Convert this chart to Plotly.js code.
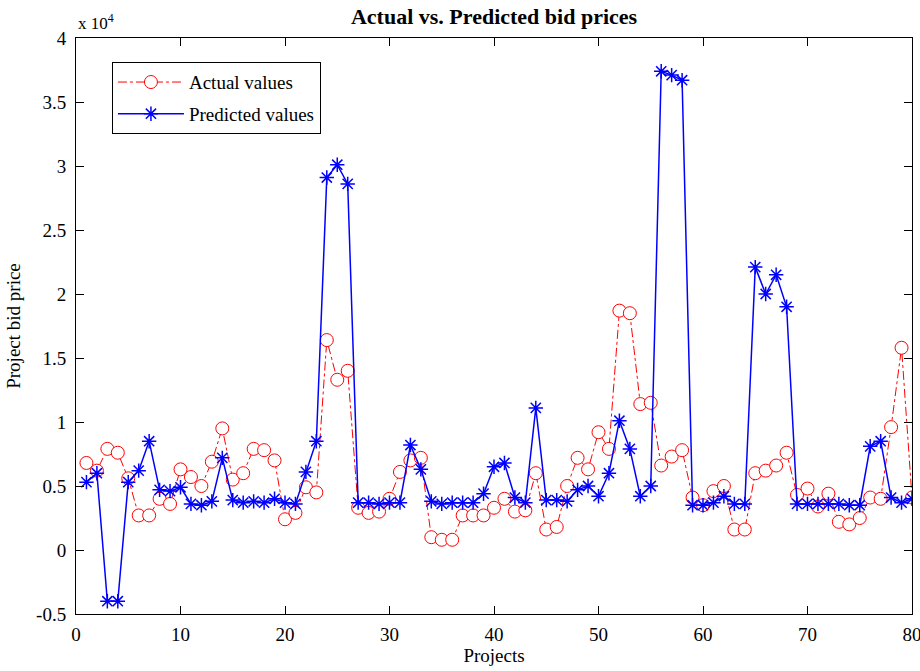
<!DOCTYPE html>
<html>
<head>
<meta charset="utf-8">
<script src="https://cdn.plot.ly/plotly-3.0.1.min.js"></script>
<style>html,body{margin:0;padding:0;background:#fff;}#chart{width:920px;height:671px;}</style>
</head>
<body>
<div id="chart"></div>
<script>
// Values in units of 10^4
const projects = Array.from({length: 80}, (_, i) => i + 1);
const actualValues = [
  0.68, 0.62, 0.79, 0.76, 0.56, 0.27, 0.27, 0.40, 0.36, 0.63,
  0.57, 0.50, 0.69, 0.95, 0.55, 0.60, 0.79, 0.78, 0.70, 0.24,
  0.29, 0.49, 0.45, 1.64, 1.33, 1.40, 0.33, 0.29, 0.30, 0.40,
  0.61, 0.70, 0.72, 0.10, 0.08, 0.08, 0.27, 0.27, 0.27, 0.33,
  0.40, 0.30, 0.31, 0.60, 0.16, 0.18, 0.50, 0.72, 0.63, 0.92,
  0.79, 1.87, 1.85, 1.14, 1.15, 0.66, 0.73, 0.78, 0.41, 0.35,
  0.46, 0.50, 0.16, 0.16, 0.60, 0.62, 0.66, 0.76, 0.43, 0.48,
  0.34, 0.44, 0.22, 0.20, 0.25, 0.41, 0.40, 0.96, 1.58, 0.41
];
const predictedValues = [
  0.53, 0.60, -0.40, -0.40, 0.53, 0.62, 0.85, 0.47, 0.46, 0.49,
  0.36, 0.35, 0.38, 0.72, 0.39, 0.37, 0.38, 0.37, 0.40, 0.37,
  0.36, 0.61, 0.85, 2.91, 3.01, 2.86, 0.37, 0.37, 0.36, 0.37,
  0.37, 0.82, 0.63, 0.38, 0.36, 0.37, 0.37, 0.37, 0.44, 0.65,
  0.68, 0.41, 0.37, 1.11, 0.39, 0.39, 0.38, 0.47, 0.50, 0.42,
  0.60, 1.01, 0.79, 0.42, 0.50, 3.74, 3.71, 3.67, 0.35, 0.35,
  0.37, 0.42, 0.36, 0.36, 2.21, 2.00, 2.15, 1.90, 0.36, 0.36,
  0.36, 0.36, 0.36, 0.35, 0.35, 0.81, 0.85, 0.41, 0.37, 0.40
];
const xTicks = [0, 10, 20, 30, 40, 50, 60, 70, 80];
const yTicks = [-0.5, 0, 0.5, 1, 1.5, 2, 2.5, 3, 3.5, 4];
const yTickText = ['-0.5', '0', '0.5', '1', '1.5', '2', '2.5', '3', '3.5', '4'];

const FONT = 'Liberation Serif, Times New Roman, serif';

const traces = [
  {
    x: projects, y: actualValues, name: 'Actual values', type: 'scatter', mode: 'lines+markers',
    legendgroup: 'a',
    line: {color: '#ff0000', width: 1, dash: 'dashdot'},
    marker: {symbol: 'circle', size: 13, color: 'rgba(255,255,255,1)', line: {width: 1, color: '#ff0000'}}
  },
  {
    x: projects, y: predictedValues, name: 'Predicted values', type: 'scatter', mode: 'lines+markers',
    legendgroup: 'b',
    line: {color: '#0000ff', width: 1.5},
    marker: {symbol: 'asterisk-open', size: 12, color: '#0000ff', line: {width: 1.5, color: '#0000ff'}}
  }
];

const layout = {
  width: 920, height: 671,
  margin: {l: 76, r: 8, t: 38, b: 57},
  paper_bgcolor: '#ffffff', plot_bgcolor: '#ffffff',
  font: {family: FONT, size: 19, color: '#000'},
  title: {text: '<b>Actual vs. Predicted bid prices</b>', font: {family: FONT, size: 22, color: '#000'}, x: 0.537, xref: 'container', xanchor: 'center', y: 0.975, yanchor: 'middle'},
  xaxis: {
    range: [0, 80], tickvals: xTicks, ticktext: xTicks.map(String),
    ticks: 'inside', ticklen: 8, tickcolor: '#000', mirror: 'allticks',
    showline: true, linecolor: '#000', linewidth: 1, showgrid: false, zeroline: false,
    ticklabelstandoff: 3, ticklabeloverflow: 'allow',
    title: {text: 'Projects', font: {family: FONT, size: 19}, standoff: 4},
    tickfont: {family: FONT, size: 19}
  },
  yaxis: {
    range: [-0.5, 4], tickvals: yTicks, ticktext: yTickText,
    ticks: 'inside', ticklen: 8, tickcolor: '#000', mirror: 'allticks',
    showline: true, linecolor: '#000', linewidth: 1, showgrid: false, zeroline: false,
    ticklabelstandoff: 5, ticklabeloverflow: 'allow',
    title: {text: 'Project bid price', font: {family: FONT, size: 19}, standoff: 10},
    tickfont: {family: FONT, size: 19}
  },
  showlegend: true,
  legend: {
    x: 0.043, y: 0.958, xanchor: 'left', yanchor: 'top',
    bgcolor: '#ffffff', bordercolor: '#000', borderwidth: 1,
    font: {family: FONT, size: 19, color: '#000'},
    traceorder: 'grouped', tracegroupgap: 4, itemwidth: 66
  },
  annotations: [{
    text: 'x 10<sup>4</sup>', xref: 'paper', yref: 'paper', x: 0, y: 1,
    xanchor: 'left', yanchor: 'bottom', yshift: 3, showarrow: false,
    font: {family: FONT, size: 17, color: '#000'}
  }]
};

Plotly.newPlot('chart', traces, layout, {displayModeBar: false, staticPlot: true});
</script>
</body>
</html>
